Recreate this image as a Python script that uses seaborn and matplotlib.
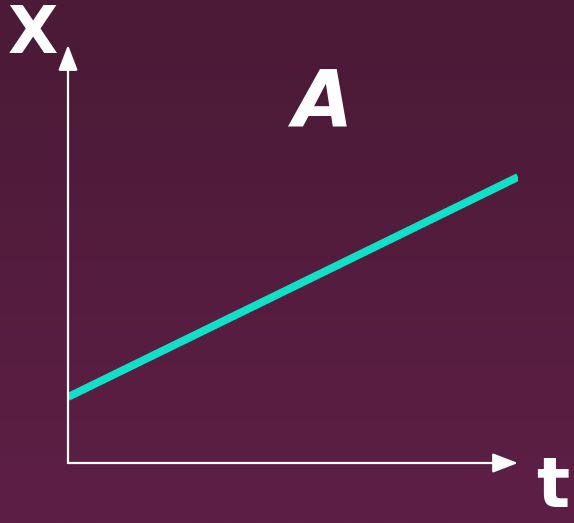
import matplotlib
matplotlib.use("Agg")
import matplotlib.pyplot as plt
import numpy as np
import pandas as pd
import seaborn as sns

# line A: position x against time t
t_values = [0, 10]
x_values = [1.5, 6.5]

axis_labels = ["t", "X"]
line_label = "A"

BG_TOP = "#4a1a36"
BG_BOTTOM = "#5e1f46"
LINE_COLOR = "#0fe0c8"


def main() -> None:
    sns.set_theme(style="white")
    plt.rcParams["font.family"] = ["DejaVu Sans"]

    fig = plt.figure(figsize=(5.74, 5.23), dpi=100)

    # gradient background
    bg = fig.add_axes([0, 0, 1, 1])
    top = np.array(matplotlib.colors.to_rgb(BG_TOP))
    bottom = np.array(matplotlib.colors.to_rgb(BG_BOTTOM))
    ramp = np.linspace(0, 1, 256)[:, None, None]
    grad = top + (bottom - top) * ramp
    grad = np.repeat(grad, 2, axis=1)
    bg.imshow(grad, aspect="auto", extent=[0, 1, 0, 1])
    bg.set_axis_off()

    ax = fig.add_axes([68 / 574, 60 / 523, 450 / 574, 418 / 523])
    ax.patch.set_alpha(0)
    df = pd.DataFrame({"t": t_values, "x": x_values})
    sns.lineplot(data=df, x="t", y="x", color=LINE_COLOR, linewidth=5.6,
                 solid_capstyle="butt", ax=ax)
    ax.set_xlim(0, 10)
    ax.set_ylim(0, 9.5)
    ax.set_axis_off()

    arrow = dict(arrowstyle="-|>,head_length=1.3,head_width=0.5", color="white",
                 lw=1.6, shrinkA=0, shrinkB=0)
    ax.annotate("", xy=(1, 0), xytext=(0, 0), xycoords="axes fraction",
                textcoords="axes fraction", arrowprops=arrow)
    ax.annotate("", xy=(0, 1), xytext=(0, 0), xycoords="axes fraction",
                textcoords="axes fraction", arrowprops=arrow)

    fig.text(33 / 574, 1 - 53 / 523, axis_labels[1], color="white", fontsize=47,
             fontweight="bold", ha="center", va="baseline")
    fig.text(553 / 574, 1 - 507 / 523, axis_labels[0], color="white", fontsize=50,
             fontweight="bold", ha="center", va="baseline")
    fig.text(322 / 574, 1 - 126 / 523, line_label, color="white", fontsize=56,
             fontweight="bold", fontstyle="italic", ha="center", va="baseline")

    fig.savefig("out.png", dpi=100)
    plt.close(fig)


if __name__ == "__main__":
    main()
